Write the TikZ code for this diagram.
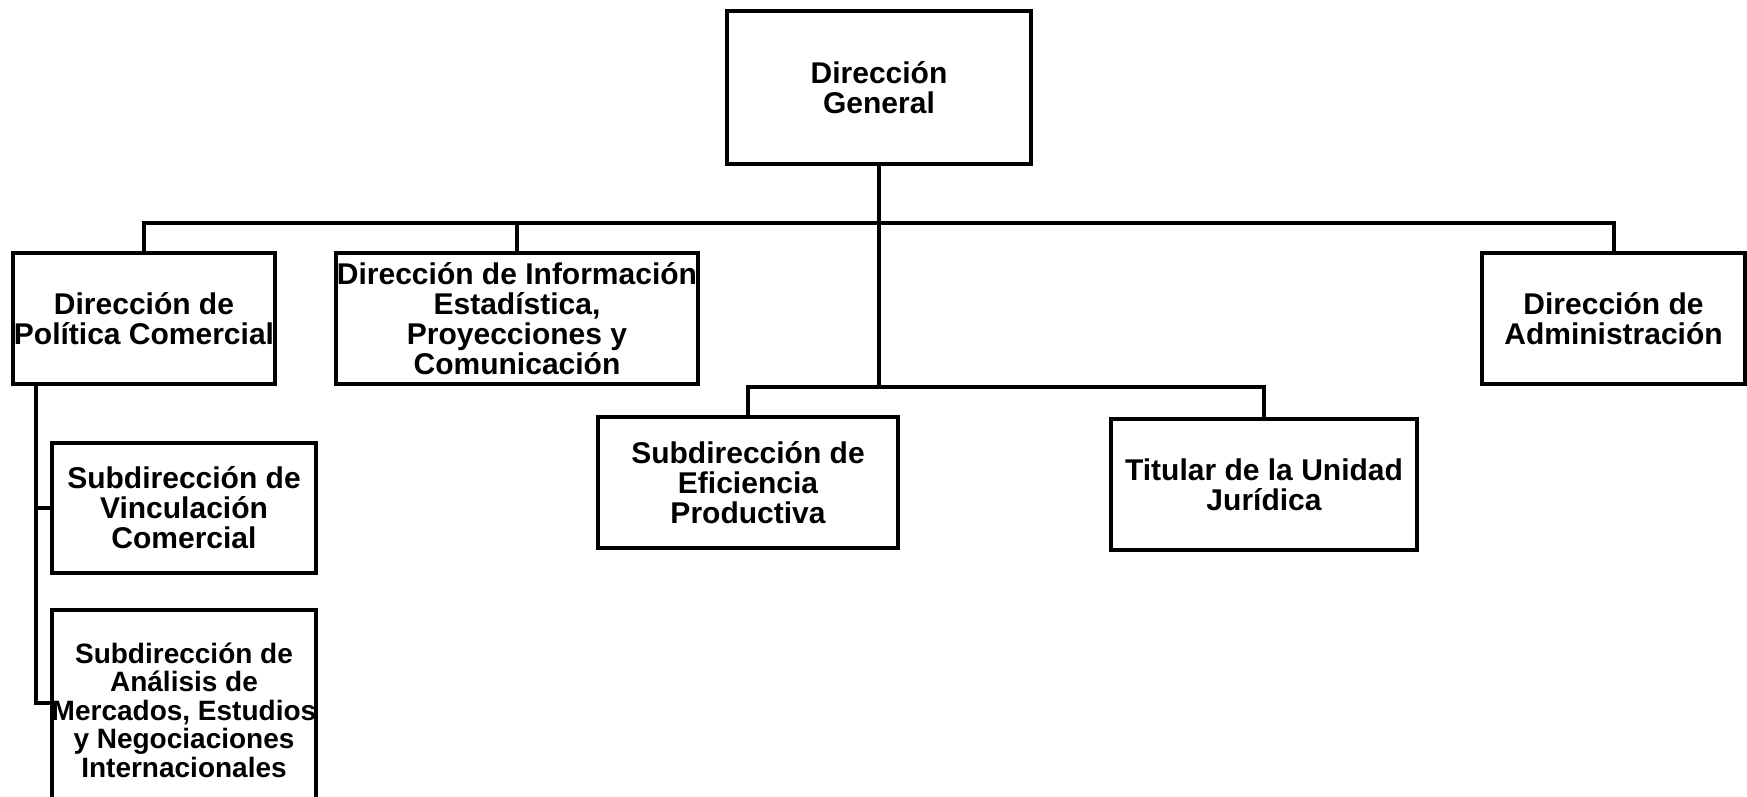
\documentclass[tikz,border=0pt]{standalone}
\usepackage{fontspec}
\setmainfont{Liberation Sans}
\usetikzlibrary{positioning}

\begin{document}
\begin{tikzpicture}[
	         x                = 1pt,
	         y                = -1pt,
	         unit/.style      = {draw, line width = 4pt, inner sep = 0pt, align = center,
	                             minimum height = 131,
	                             font = \fontsize{30}{30}\selectfont\bfseries},
	         small/.style     = {font = \fontsize{28}{28.5}\selectfont\bfseries},
	         link/.style      = {line width = 4pt}]
	  \useasboundingbox (0,0) rectangle (1747,796);
	  \node [unit, minimum width = 304, minimum height = 153] (dg) at (879,87.5) {Dirección\\General};
	  \node [unit, minimum width = 262] (pol) at (144,318.5) {Dirección de\\Política Comercial};
	  \node [unit, minimum width = 362] (inf) at (517,318.5) {Dirección de Información\\Estadística,\\Proyecciones y\\Comunicación};
	  \node [unit, minimum width = 263] (adm) at (1613.5,318.5) {Dirección de\\Administración};
	  \node [unit, minimum width = 300] (efi) at (748,482.5) {Subdirección de\\Eficiencia\\Productiva};
	  \node [unit, minimum width = 306] (tit) at (1264,484.5) {Titular de la Unidad\\Jurídica};
	  \node [unit, minimum width = 264, minimum height = 130] (vin) at (184,508) {Subdirección de\\Vinculación\\Comercial};
	  \node [unit, small, minimum width = 264, minimum height = 200] (ana) at (184,710) {Subdirección de\\Análisis de\\Mercados, Estudios\\y Negociaciones\\Internacionales};
	  \coordinate (bus)  at (879,223);
	  \coordinate (bus2) at (879,387);
	  \coordinate (lft)  at ([xshift = 24.5]pol.south west);
	  \draw [link] (dg.south) -- (bus2);
	  \draw [link] (pol.north) |- (bus) -| (adm.north);
	  \draw [link] (inf.north) -- (inf.north |- bus);
	  \draw [link] (efi.north) |- (bus2) -| (tit.north);
	  \draw [link] (lft) |- (vin.west);
	  \draw [link] (lft) |- ([yshift = 7]ana.west);
	\end{tikzpicture}
\end{document}
